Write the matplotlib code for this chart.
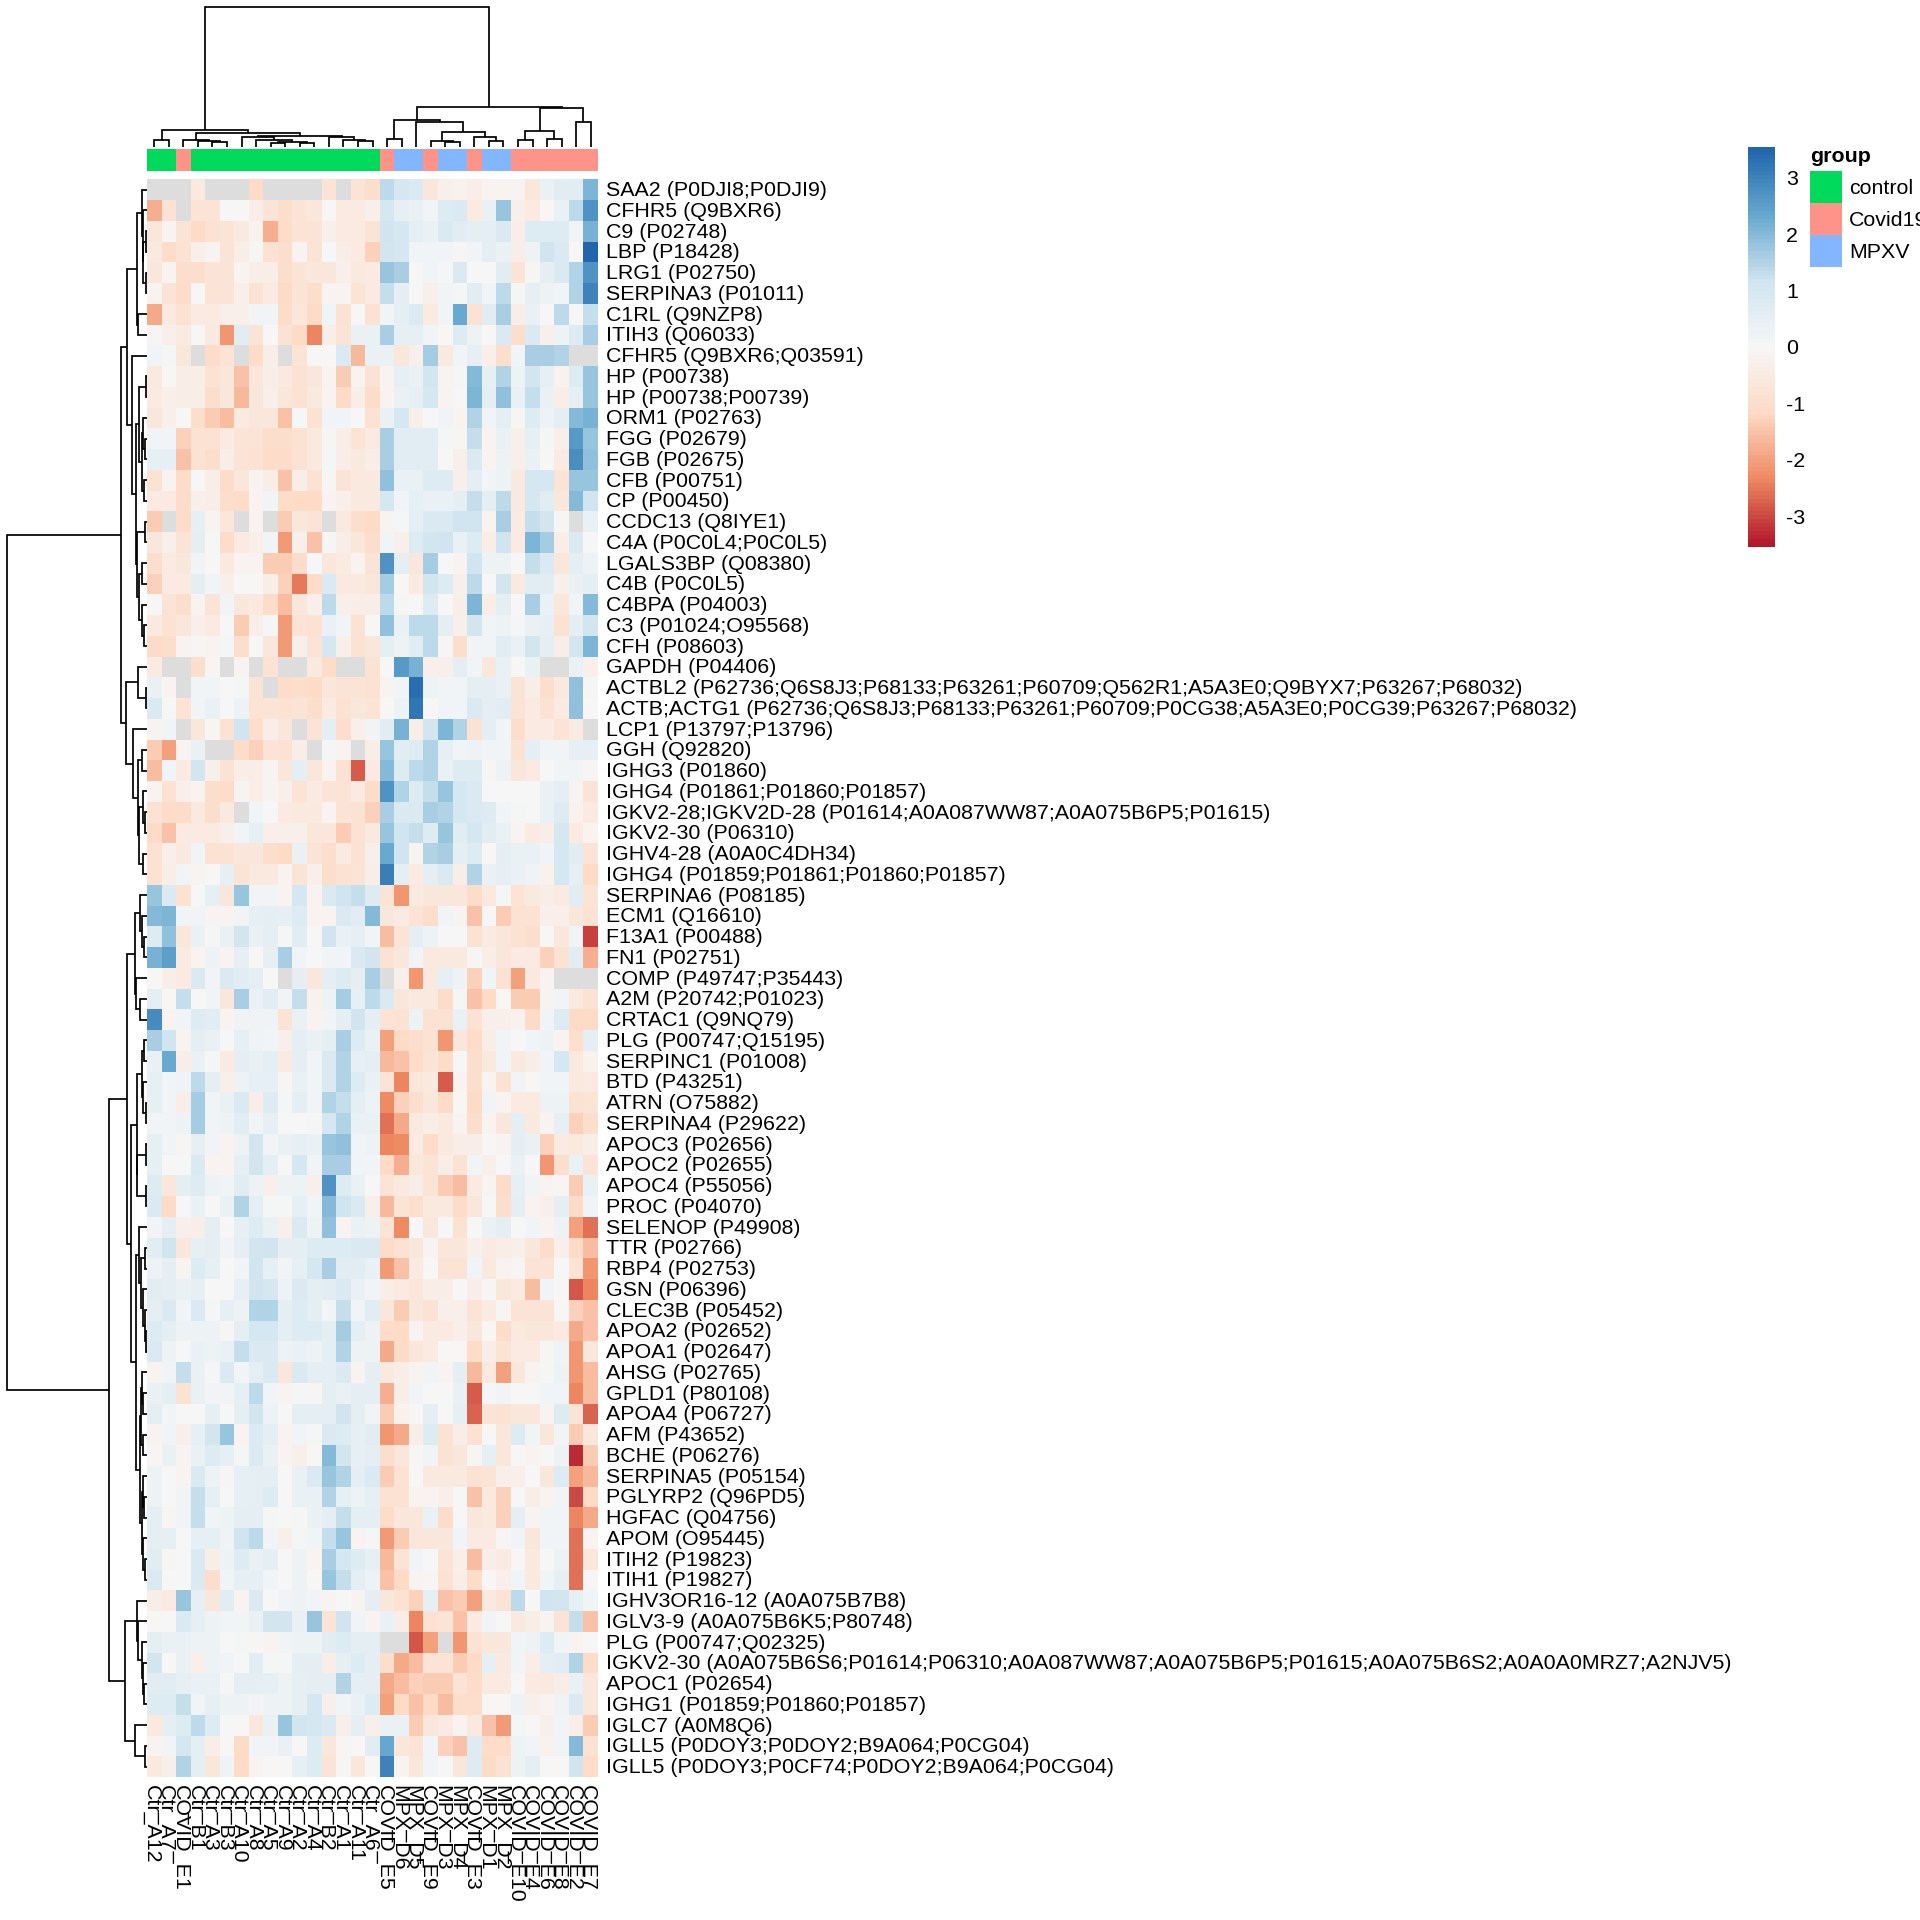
import numpy as np
import matplotlib
matplotlib.use("Agg")
import matplotlib.pyplot as plt
from matplotlib.colors import LinearSegmentedColormap, ListedColormap, BoundaryNorm

plt.rcParams['font.family'] = ['Liberation Sans', 'DejaVu Sans']
N = float('nan')

row_labels = [
"SAA2 (P0DJI8;P0DJI9)","CFHR5 (Q9BXR6)","C9 (P02748)","LBP (P18428)","LRG1 (P02750)","SERPINA3 (P01011)",
"C1RL (Q9NZP8)","ITIH3 (Q06033)","CFHR5 (Q9BXR6;Q03591)","HP (P00738)","HP (P00738;P00739)","ORM1 (P02763)",
"FGG (P02679)","FGB (P02675)","CFB (P00751)","CP (P00450)","CCDC13 (Q8IYE1)","C4A (P0C0L4;P0C0L5)",
"LGALS3BP (Q08380)","C4B (P0C0L5)","C4BPA (P04003)","C3 (P01024;O95568)","CFH (P08603)","GAPDH (P04406)",
"ACTBL2 (P62736;Q6S8J3;P68133;P63261;P60709;Q562R1;A5A3E0;Q9BYX7;P63267;P68032)",
"ACTB;ACTG1 (P62736;Q6S8J3;P68133;P63261;P60709;P0CG38;A5A3E0;P0CG39;P63267;P68032)",
"LCP1 (P13797;P13796)","GGH (Q92820)","IGHG3 (P01860)","IGHG4 (P01861;P01860;P01857)",
"IGKV2-28;IGKV2D-28 (P01614;A0A087WW87;A0A075B6P5;P01615)","IGKV2-30 (P06310)","IGHV4-28 (A0A0C4DH34)",
"IGHG4 (P01859;P01861;P01860;P01857)","SERPINA6 (P08185)","ECM1 (Q16610)","F13A1 (P00488)","FN1 (P02751)",
"COMP (P49747;P35443)","A2M (P20742;P01023)","CRTAC1 (Q9NQ79)","PLG (P00747;Q15195)","SERPINC1 (P01008)",
"BTD (P43251)","ATRN (O75882)","SERPINA4 (P29622)","APOC3 (P02656)","APOC2 (P02655)","APOC4 (P55056)",
"PROC (P04070)","SELENOP (P49908)","TTR (P02766)","RBP4 (P02753)","GSN (P06396)","CLEC3B (P05452)",
"APOA2 (P02652)","APOA1 (P02647)","AHSG (P02765)","GPLD1 (P80108)","APOA4 (P06727)","AFM (P43652)",
"BCHE (P06276)","SERPINA5 (P05154)","PGLYRP2 (Q96PD5)","HGFAC (Q04756)","APOM (O95445)","ITIH2 (P19823)",
"ITIH1 (P19827)","IGHV3OR16-12 (A0A075B7B8)","IGLV3-9 (A0A075B6K5;P80748)","PLG (P00747;Q02325)",
"IGKV2-30 (A0A075B6S6;P01614;P06310;A0A087WW87;A0A075B6P5;P01615;A0A075B6S2;A0A0A0MRZ7;A2NJV5)",
"APOC1 (P02654)","IGHG1 (P01859;P01860;P01857)","IGLC7 (A0M8Q6)","IGLL5 (P0DOY3;P0DOY2;B9A064;P0CG04)",
"IGLL5 (P0DOY3;P0CF74;P0DOY2;B9A064;P0CG04)"]

col_labels = ["Ctr_A12","Ctr_A7","COVID_E1","Ctr_B1","Ctr_A3","Ctr_B3","Ctr_A10","Ctr_A8","Ctr_A5","Ctr_A9",
"Ctr_A2","Ctr_A4","Ctr_B2","Ctr_A1","Ctr_A11","Ctr_A6","COVID_E5","MPX_D6","MPX_D5","COVID_E9","MPX_D3",
"MPX_D4","COVID_E3","MPX_D1","MPX_D2","COVID_E10","COVID_E4","COVID_E6","COVID_E8","COVID_E2","COVID_E7"]

col_groups = ["control","control","Covid19"]+["control"]*13+["Covid19","MPXV","MPXV","Covid19","MPXV","MPXV",
"Covid19","MPXV","MPXV"]+["Covid19"]*6
group_names = ["control","Covid19","MPXV"]
group_colors = {"control":"#00DA5C","Covid19":"#FF9289","MPXV":"#82B7FF"}
scale_ticks = [3,2,1,0,-1,-2,-3]

z_scores = [
[N,N,N,-.6,N,N,N,-1.1,N,N,N,N,-.8,N,-.8,-1,1.4,1,.9,-.7,-.3,-.25,-.4,-.2,-.15,-.15,-.7,.4,.7,.7,2.1],
[-1.8,-.9,N,-.8,-.8,.05,-.05,-.4,-.8,-1,-.8,-.7,.05,-.5,-.5,-.3,1,.5,.4,.2,.8,.9,-.5,.4,1.8,-.3,-.5,-.05,.4,1.4,2.7],
[-.7,-.2,-.8,-1.2,-.9,-.8,-.6,-.25,-1.8,-1.1,-.8,-.8,-.3,-.5,-.5,-.8,1.2,1,.6,.4,.9,.7,.6,.6,.9,-.4,.8,.8,.8,.2,2.2],
[-.6,-1.1,-.9,-.3,-.2,-.8,-.4,-.1,-.9,-1,-.2,-.8,0,-.4,-.5,-1.3,1.1,1,.2,.2,.2,-.1,.2,.6,.4,-.4,.3,1.2,.9,.05,3.5],
[-.7,-.2,-1,-1,-.8,-.8,-.15,-.4,-.4,-1,-.8,-.7,-.7,-.3,-.6,-.5,1.8,1.6,.05,.2,.1,.9,.05,.05,.7,-.8,-.1,.6,.9,1.5,2.7],
[-.2,-.8,-1.1,.05,-.8,-.8,-.3,-.9,-.5,-1.2,-.8,-1,-.2,-.2,-.8,-.5,1.3,.6,.05,-.3,.2,.1,.7,.15,1.4,.1,.5,.35,.15,1.5,3],
[-1.9,-.5,-.9,-.5,-.5,-.3,-.3,.2,.2,-1.1,-.7,-1.2,.2,-.9,.05,-.9,.2,.6,.9,-.5,.2,2.3,-.9,.7,1.6,-.4,.4,0,1.4,-.1,1.3],
[-.1,-.3,-.5,0,-.6,-2.2,.7,-.8,-.05,-.9,-1.2,-2.4,-.4,-.8,.4,.4,1.6,.5,.6,.2,-.05,.8,.3,.05,.9,-1,.9,-.3,.3,.8,1.6],
[.2,.1,-.7,N,-1.1,-.8,N,-1.1,-.4,N,-.8,0,-.05,.9,-1.7,.4,.4,-.7,-.3,1.7,-.6,.2,.5,-.3,-1,.15,1.6,1.6,1.5,N,N],
[-.6,-.05,-.4,-.4,-.9,-.7,-1.5,-.7,-.4,-.6,-.9,-.7,-.2,-1.4,-.2,-.9,-.2,.5,.4,1.1,-.2,.1,2,.5,1.5,.3,1.1,.5,-.25,.8,1.8],
[-.5,-.3,-.4,-.4,-1,-.7,-1.7,-.7,-.3,-.7,-.9,-.6,-.2,-1.2,-.4,-1.1,-.2,.4,.5,1,-.2,.05,2.1,.6,1.9,.4,1.3,.4,-.4,.5,1.8],
[-.7,-.3,-.05,-1,-1.4,-1.6,-.5,-.7,-.7,-1.5,.05,-.9,.15,.15,.05,-.9,.4,1,-.3,0,.2,-.2,1.5,.2,.6,-.1,.8,.3,.6,2,2.2],
[.2,.2,-1.3,-.9,-.9,-.5,-.8,-.8,-1,-1,-.9,-.6,-.1,-.4,-.8,-.5,1.6,.7,.7,.7,.1,-.1,1.3,-.2,.4,-.3,.5,.1,-.3,2.6,1.8],
[.5,.5,-1.5,-.9,-1,-.4,-.8,-.9,-1.1,-1.1,-.9,-.6,.1,-.4,-.6,-.4,1.6,.7,.7,.7,-.05,-.3,.9,-.2,.3,-.3,.4,-.05,-.5,2.8,1.9],
[-.9,-.2,-1.1,0,-.4,-1.1,-.7,-.2,-.4,-1.5,-.4,-.9,-.1,-.8,-.6,-.6,1.9,.4,.4,.8,.8,-.3,.6,.2,.3,-.6,1,1,-.8,1.8,1.8],
[-.5,-.5,-1.1,-.3,-.4,-1,-1.1,-.2,.2,-1.1,-1.2,-1.2,-.2,-.3,-.6,-.6,1,.2,.5,.4,.4,.6,1.3,.6,1.4,-.6,1,.7,-.7,2,1.2],
[-1.4,N,-1.1,.5,-.2,-.7,N,-.2,N,-1.4,-.7,-.8,N,-.6,-1,-1.2,-.2,.1,.6,.9,.9,1.2,1.2,-.2,1.6,-.5,1.3,1.1,-.1,N,.4],
[-.7,-.3,-.8,.6,.05,-1.1,-.5,-.3,.2,-2.1,-.3,-1.5,-.1,-.4,-.7,-1,.15,-.3,.8,1.1,1.2,.4,.8,-.4,1.2,-.5,2.1,1.7,-.4,.9,.05],
[-1,-.5,-.7,.15,.05,-.6,-.2,-.2,-1.4,-1.4,-1.1,.05,-.7,-.5,-.2,-.8,2.7,.6,-.7,1.7,.05,-.2,1.2,.3,.3,.05,1.3,.9,-.7,.6,.3],
[-1.3,-.5,-.5,.6,.15,-.3,-.05,-.05,-.4,-1.3,-2.5,-1.1,.9,-.6,-.6,-.7,1.7,-.05,-.5,1.1,.8,-.3,1.4,-.05,1.1,-.6,.7,.7,-.3,.4,.6],
[-.05,-.8,-1,-.15,-.8,.2,-.7,-.6,-1.1,-1.6,-.7,-.3,1.4,-.3,-.4,-.4,1.4,.1,-.05,.8,0,-.4,2.1,-.4,.6,.05,1.6,.4,-.7,.2,2],
[-.6,-.9,-.7,-.3,-.5,.05,-1.4,-.4,.1,-2.1,-.8,-.9,.4,.2,-.9,-.05,1.9,.4,1.4,1.4,.6,-.3,1.1,.2,.3,.1,.4,.5,-.9,.6,1.1],
[-1.2,-1,-.2,-.1,-.15,.1,-1,.05,-.7,-2.1,-.3,-.8,1,-.3,-.9,-.7,.6,.3,.7,1.4,-.1,-1,.2,.2,.7,.4,1.1,.6,-.4,1.1,2.1],
[-.5,N,N,-1,-.1,N,-.2,N,-.9,N,N,-.6,-1.1,N,N,-.9,0,2.6,2.2,-.3,-.3,.6,.2,-.7,.4,-.05,.4,N,N,.4,-.3],
[.4,-.2,N,.2,.2,0,.1,-.8,N,-1.1,-1,-1.2,-.7,-.8,-.8,-.9,-.2,.2,3.4,.3,.2,.2,.6,.6,.4,-.8,-.4,-1,-.6,1.9,.1],
[.9,-.05,-.8,.2,.4,.05,.35,-.8,-.8,-.9,-.8,-1,-.5,-.9,-.7,-.8,-.05,.3,3.2,.05,.15,.15,.9,.6,.7,-.8,-.5,-.9,-.5,1.9,.05],
[-.15,.15,N,-.7,-.1,-.9,1.2,-1,-.4,-.7,N,-.8,.6,-1,-.3,.2,.7,2.2,-.4,1.1,2.1,1.5,-.9,.6,.15,-1,-.5,-.5,-.8,-.5,N],
[-1.4,-2,-.2,.4,N,N,-1.1,-1.3,-.8,-.9,-.4,N,.1,-.2,N,-.4,1.8,.7,.8,1.5,.5,.2,.3,.2,.2,-.9,.6,.2,.2,.5,.5],
[-1.6,.2,-.5,1.1,-.3,-.9,-.4,-.4,-.2,-.7,.6,-.7,-.2,-.9,-2.8,-.5,2,.8,1.4,1.5,.4,.8,.8,-.1,.3,-.7,-.5,0,.2,.2,-.1],
[-.2,-.9,-.3,-.2,-1,-1.1,-.15,-.4,-.2,-.3,-.8,-.5,-.8,-.8,-.5,-1.1,2.7,1.5,.8,1.3,1.8,1,.9,.05,.05,.05,.05,.4,.6,-.2,-.8],
[-.9,-1.1,-1.1,-.6,-1,-.6,N,.2,.05,-.5,-.6,-.6,-.2,-.8,-.9,-1.3,1.6,.9,.9,1.6,1.5,1,.9,.8,.2,.1,.05,.4,.8,-.25,-.5],
[-1.2,-1.5,-.5,-.5,-.5,-.3,.2,.5,-.3,-.3,-.3,-.7,-.7,-1.4,-.9,-.6,1.8,1.2,1.3,.8,1.8,.7,1,.7,.4,-.2,-.5,-.4,1,-.5,-.2],
[-.9,-.3,-.6,.2,-.9,-.9,-.7,-.7,-1,-1.2,.4,-.8,-1,-.5,-.9,-.3,2.3,1.2,-.2,1.5,1.6,.6,.8,-.05,.6,.4,.4,.2,1,.7,-.8],
[-.9,-.4,.2,-.2,-.05,.5,-.8,-.6,-.6,-.2,-.8,-.3,-1,-.9,-.8,-.4,3.1,.6,-.5,.6,.9,-.4,1.5,.4,.5,.4,.25,-.25,1,.5,-1.2],
[1.8,.9,-.9,.05,.5,-.7,1.8,.15,.2,-.2,1,-.15,.9,1.2,1.3,.8,-.8,-2.2,-.6,-.7,-.7,-.7,-1.1,-.6,.1,-.8,-.6,-.4,-.5,.7,-.8],
[2,2.1,.2,.15,-.2,-.2,.2,.5,.6,.5,.8,-.2,-.2,.9,.7,2,-.7,-.5,-.8,-1,.15,-.2,-1.5,-.05,-1.4,-.9,-.9,-.35,-.3,-.7,-.9],
[.8,1.9,-.7,.4,.1,.4,1.1,.4,.6,.1,.7,-.05,1.2,.4,.5,.2,-1.6,-.8,.6,.3,.05,.05,-.9,-.5,-.7,-.9,-1,.05,-.7,.2,-3.1],
[2.2,2.5,-.5,-.2,.3,-.2,.5,-.05,.5,1.6,.2,.05,.15,.15,.9,1.1,-.9,-.7,.15,-.6,-.6,-.6,-.1,-.4,-.7,-.5,-.5,-1.3,-.9,.7,-1.8],
[-.05,-.4,-.5,.9,.2,.9,.7,.6,.05,N,.6,-.7,.6,.8,.6,1.6,N,-.3,-2.2,-.6,.5,.3,-1.3,.2,-.9,-2,-.6,-.2,N,N,N],
[.6,-.05,1.3,.05,.2,-.7,1.6,.4,.7,.15,1.3,-.25,.3,1.7,.5,1.4,.9,-.7,-.6,-.6,-1.1,.1,-1.5,-1.2,-.05,-1.4,-1.4,-.2,.2,-.6,-.9],
[2.9,-.2,.15,.8,.7,-.2,.25,.25,.25,-.8,.4,-.2,.2,.6,1.2,.6,-.8,-.9,.3,-.9,-.9,.4,-.9,-.3,-.3,-.25,-1.2,.2,.8,-1.2,-1.2],
[1.6,1.2,-.2,.6,.4,.05,.5,.25,.15,-.3,.6,.4,.6,1.6,.8,.4,-2,-1.2,-1,-.9,-2.2,-.7,-1.1,-.4,.15,.05,.2,.3,-.2,-1,.6],
[.4,2.3,-.4,.4,.1,-.5,.6,.4,.6,-.5,.6,.2,.9,1.5,.5,.6,-1.7,-1.5,-1.1,-.8,-1.1,0,-1,-.6,.15,-.6,-.4,.2,1,-.6,-.25],
[.5,.15,.25,1.4,.6,-.3,.35,.5,.5,-.1,.4,.2,.9,1.5,.8,.4,-.8,-2.4,-.7,-.6,-2.8,-.2,-1,-.15,-.9,.15,-.05,.2,.2,-.6,-.5],
[.5,.15,-.4,1.7,.15,.4,.9,-.4,.8,.1,.6,.15,1.5,1.3,.6,.3,-2.3,-1.3,-1,-.7,-1.2,-.05,-1.2,.15,-.2,-.5,-.5,.3,.3,-.9,-.8],
[.2,.2,.35,1.7,.2,.3,.7,.15,.5,.05,0,.1,1,1.5,.4,.4,-2.6,-1.9,-.6,-.4,-.6,-.2,-1,-.15,-.7,.6,-.6,-.2,.5,-1.3,-1],
[.5,.2,-.1,.5,.15,-.15,.3,1.1,.15,.4,.5,.4,1.8,1.9,.2,.3,-2.4,-2.3,-.5,-1.1,-.6,-.4,-.4,-.05,-.2,.6,.4,-1.3,-.5,-.6,-.4],
[.5,.05,.05,.9,-.15,-.2,.5,1.1,.6,0,1,.15,1.6,1.6,.2,.2,-1.2,-1.8,-.7,-.8,-.4,-.9,.2,-.3,.05,.4,.05,-2.2,-1,.4,-.8],
[.8,-.7,.6,.8,.3,.2,.7,.3,-.3,.3,.3,-.3,2.7,.8,.4,0,-.8,-.6,-.4,-.8,-1.4,-1.6,-.5,-.15,-1.1,.5,.15,-.2,-.1,-1.4,.4],
[.9,-1.2,.05,.4,.05,.4,1.5,.6,.1,.1,.5,.15,2,1.2,.9,-.3,-1.7,-.8,-1,-.6,-.6,-1.1,-.7,0,-1,.6,-.2,-.3,.6,-1.2,.15],
[.2,.6,-.3,-.4,.6,.05,.5,.8,.4,-.3,.9,.35,1.9,-.2,.4,.3,-.8,-2.3,0,-.7,0,-.9,.05,.4,.6,.05,.2,-.2,.3,-2,-2.6],
[.7,1.2,-.7,.5,.6,.15,.6,1.1,1.2,.6,.6,.8,.8,.8,.9,.9,-1.1,-.9,-.7,-.2,-.7,-.7,-.3,-.5,-.4,-.35,-.7,-1.1,-.3,-1.2,-1.6],
[.35,.6,-.2,.8,.5,.05,.15,1.2,.5,.15,.5,1,1.6,.7,.7,.4,-2.1,-1.5,-.5,-.05,-.8,-.8,.15,-.6,-.15,-.1,-.8,-.8,0,-.8,-2.2],
[.7,.6,.4,.5,0,0,.5,1.2,1,.3,.9,.6,.7,.9,.4,.2,-.4,-.5,-.7,-.4,-.4,.05,-.4,-.1,-.7,-.5,-1.6,.2,0,-2.9,-2.4],
[.6,.9,.2,.9,.1,.5,.35,1.5,1.5,.6,.8,.6,.2,1.3,.2,.7,-.7,-1.4,-.7,-.9,-.3,-.3,-.8,-.5,-.1,-.8,-.8,-.8,-.05,-1.3,-1.5],
[.8,.6,.35,.3,.35,-.1,.6,1,1,.6,.8,.8,.6,1.7,.6,.3,-1.1,-1.2,-.2,-.5,-.5,-.3,-.7,-.05,-1.1,-.6,-.7,-.7,-.5,-1.9,-1.5],
[.9,.35,.05,.4,.35,.4,1.3,.9,.9,.3,.4,.35,.6,1.5,.35,.3,-1.9,-1.2,-.7,-.5,-.05,-.05,-1.1,-.4,-.8,-.5,-.5,-.1,.25,-2.2,-.7],
[-.2,.15,1.3,.4,.1,.9,.15,.6,.9,-.7,.9,.6,.6,.9,-.15,.6,-.6,-.4,-.2,.15,-.2,.6,-1.7,-.6,-2,-.7,-.2,.1,.3,-2.2,-1.6],
[.4,.6,-.9,.4,.15,.15,.5,1.4,.2,-.2,.1,-.1,.6,.4,.6,.6,-1.8,-.4,.15,.05,.05,.4,-2.8,.1,.15,.05,.05,.2,.2,-2.4,-1.6],
[.6,.2,.05,.05,.5,.05,.6,1.1,.35,0,.6,.6,.6,1.2,.6,.15,-1.4,-.25,-.05,.6,-.05,.5,-2.7,-.8,-.9,-.7,-.7,-.2,.8,-.8,-2.7],
[-.2,.2,-.3,.5,1.1,1.8,-.2,.9,.6,-.2,.2,.1,.9,.8,.5,.7,-2.2,-1.9,-.4,.8,-.9,-.4,-.9,.05,-.7,.8,.2,-.7,.2,-1.4,-.7],
[-.1,.4,-.2,.4,.8,.5,.1,.9,.4,-.2,-.3,-.05,2,1.1,.5,.6,-1,-.7,-.05,.2,-.9,-.7,-.1,.5,-.7,-.05,-.15,0,.3,-3.3,-1.4],
[.35,.05,-.2,.9,.35,-.1,.5,.6,.6,0,.4,.9,1.8,1.5,.6,.9,-1.4,-.9,-.05,-.6,-.6,-.6,-.9,-.8,-.3,-.3,.05,-.7,.8,-2,-1.7],
[.35,.05,.15,1.3,.5,0,.5,.6,.8,-.05,.4,.4,1.5,.5,.35,.5,-.9,-.9,-.2,-.2,-.3,.05,-1.5,-.6,-1.3,.05,-.4,-.2,.15,-3,-1.2],
[.6,-.1,.2,1.3,.15,.3,.6,.6,.1,0,.1,.4,.6,1.3,.6,.6,-1.1,-.7,-.7,.4,-1.1,.05,-.7,-.6,-1.3,.6,-.2,.2,.15,-2.4,-1.9],
[.6,.5,.05,.5,.5,.25,1.2,1.4,.15,-.3,.1,.2,1.3,1.8,-.2,.1,-2.1,-1.4,-.7,-.7,-.7,.15,-.5,-.5,-.1,.15,-.7,.15,.15,-2.6,-.2],
[.7,-.1,.05,.9,-.4,.3,.8,.4,.6,.05,.3,-.2,1.6,1,.8,.5,-1.7,-.8,.15,.05,-.8,-.3,-1.6,-.4,-.5,-.05,-.6,.05,.35,-2.6,-.7],
[.9,.05,.05,.9,-1,.2,.5,.5,.2,.05,.3,-.05,1.8,1.3,.6,.3,-1.5,-1.2,-.2,-.1,-.9,-.4,-1.1,-.05,-.3,.15,-.6,.2,.5,-2.6,-.1],
[-.4,-.5,1.8,.5,-.7,.7,-.2,.9,.05,.2,.3,.15,-.2,.05,-.2,.6,-.7,-.9,-1.3,.5,-1.5,-1.4,-2,-.6,-.8,1.4,.05,1.2,1.1,.5,.15],
[-.05,.05,.9,.5,.3,.2,.15,.4,1.1,1.1,.4,1.8,-.8,1.2,.2,-.2,.4,-.4,-2.4,-.9,-.8,-1.5,-.5,.15,0,-.6,-.4,-.2,-.8,1.3,-1.5],
[.6,.4,.4,.35,.35,.05,.1,-.1,-.2,.2,.35,.35,.7,.8,.6,.6,N,N,-2.9,-2,N,-2.2,-.9,-.7,-.7,.2,.3,.8,.15,-.15,0],
[1.1,-.05,.4,-.3,.35,.15,.05,.7,.1,.1,.6,.6,-.4,.5,.8,.6,-1,-1.9,-1.6,-.8,-.8,-1.4,-1.2,.5,-.6,.2,-.4,.6,.7,1.5,-1.1],
[.7,.7,.5,.4,.4,.1,.6,.6,.5,.35,.5,.6,.6,1.5,.6,.6,-1.9,-1.6,-1.3,-1.4,-1.4,-.8,-1.1,-.5,-.5,0,-.5,-.6,-.4,.4,-.7],
[.8,.8,1.3,.2,.5,.3,.3,.2,.3,.3,.5,1,-.3,.2,.4,.8,-2,-1.2,-1.5,-1.2,-1.6,-1,-1,-.05,-.05,.35,-.3,-.2,.25,.9,-.7],
[-.6,.6,.8,1.4,.8,.05,-.05,-.7,.4,1.8,1.1,1,.9,-.3,.6,-.3,.4,.4,-1.4,-.7,-.5,-.2,-.6,-1.5,-2.1,.1,-.05,-.3,.2,-.4,-1.4],
[-.2,.2,1,.6,-.4,-.05,-1.2,.15,.15,.4,.05,.8,-.7,-.1,-.05,.7,2.4,-.7,-.8,.2,-1.3,-1.5,.8,-1.1,-1.1,.3,.15,-.25,.15,2,-.9],
[-.6,-.3,1.5,.6,-.7,.25,-1.2,-.15,-.05,.05,.5,.8,-.8,-.1,-.7,.05,3,-.2,-.7,.2,.05,-.7,.8,-1.2,-.9,.35,.6,.05,-.05,1.2,-1.1],
]

# dendrogram merges: (left, right, height); leaves are row / column indices
col_tree = (
 ((0,1,6.7),((2,(3,(4,5,4.3),6),7),((6,(7,((8,9,3.3),(10,11,3.7),5),6.7),9.3),(12,(13,(14,15,5.3),7),10),11),13.3),17),
 (((16,17,7.7),(18,((19,(20,21,4.3),6),(22,(23,24,5.3),9.3),14.7),24.3),27),
  (((25,26,7),(27,28,7.7),16),(29,30,24.3),38.7),40),
 139.3)

tree_A = ((0,(1,((2,3,1.3),(4,5,1.3),3.7),4.3),5.3),(6,7,8.7),9.7)
tree_B = (8,(((9,10,1),((11,(12,13,1.7),4.3),(14,15,2.7),5.3),8.3),
             ((16,17,2),((18,19,5),(20,(21,22,3.3),5.3),7.7),10),11.3),15)
tree_C = ((23,(24,25,1),9),(26,((27,28,5.3),((29,(30,31,2),3.7),(32,33,4.3),8),9),13.7),21)
tree_D = ((34,(35,(36,37,3.5),5.3),7),(38,(39,40,7),11),12)
tree_E1 = (((41,42,2.7),(43,(44,45,1.3),3.7),5.3),((46,47,1),(48,49,1),9.7),10.3)
tree_U = (50,((51,52,2),(53,(54,(55,56,1),2),3.7),6),7.7)
tree_M = (((57,(58,59,3.7),5.3),(60,61,3.7),6.5),
          ((62,(63,64,3),4.3),(65,(66,67,2),3.7),5.5),7)
tree_E = (tree_E1,(tree_U,tree_M,10.7),16)
tree_F = ((68,(69,(70,(71,(72,73,2.7),4.3),5.3),9.3),10.3),(74,(75,76,2),12),22)
row_tree = (((tree_A,tree_B,20.3),tree_C,26.3),((tree_D,tree_E,19.7),tree_F,38),140.3)

W = 1920.0
HM_L, HM_R, HM_T, HM_B = 147.0, 598.0, 179.3, 1777.0
FS = 15.36
TC = '#000000'

fig = plt.figure(figsize=(19.2, 19.2), dpi=100, facecolor='white')

def px_axes(l, t, r, b):
    ax = fig.add_axes([l/W, 1-b/W, (r-l)/W, (b-t)/W])
    ax.set_axis_off()
    return ax

stops = ["#B2182B","#EF8A62","#FDDBC7","#F7F7F7","#D1E5F0","#67A9CF","#2166AC"]
base = LinearSegmentedColormap.from_list("rdbu7", stops, N=256)
cmap = ListedColormap([base(i/99) for i in range(100)])
vlim = 3.55
norm = BoundaryNorm(np.linspace(-vlim, vlim, 101), 100)
cmap.set_bad("#DDDDDD")

# heat map
mat = np.array(z_scores, dtype=float)
nr, nc = mat.shape
ax = px_axes(HM_L, HM_T, HM_R, HM_B)
ax.pcolormesh(np.arange(nc+1), np.arange(nr+1), np.ma.masked_invalid(mat), cmap=cmap, norm=norm, linewidth=0, antialiased=False)
ax.set_xlim(0, nc); ax.set_ylim(nr, 0)

cw = (HM_R-HM_L)/nc
rh = (HM_B-HM_T)/nr
for i, s in enumerate(row_labels):
    fig.text(606/W, 1-(HM_T+rh*(i+.5)-1)/W, s, fontsize=FS, color=TC, ha='left', va='center_baseline')
for j, s in enumerate(col_labels):
    fig.text((HM_L+cw*(j+.5)-3)/W, 1-1785/W, s, fontsize=FS, color=TC, rotation=270, ha='center', va='top')

# annotation strip
ax = px_axes(HM_L, 149, HM_R, 170.7)
for j, g in enumerate(col_groups):
    ax.bar(j+.5, 1, width=1, color=group_colors[g], linewidth=0)
ax.set_xlim(0, nc); ax.set_ylim(0, 1)

# dendrograms
def walk(node, segs):
    if not isinstance(node, tuple):
        return node+.5, 0.0
    pa, ha_ = walk(node[0], segs)
    pb, hb_ = walk(node[1], segs)
    h = node[2]
    segs.append(([pa, pa, pb, pb], [ha_, h, h, hb_]))
    return (pa+pb)/2, h

LW = 1.25
segs = []; walk(col_tree, segs)
ax = px_axes(HM_L, 0, HM_R, 146.5)
for p, h in segs:
    ax.plot(p, h, color='black', lw=LW, solid_joinstyle='miter', solid_capstyle='butt')
ax.set_xlim(0, nc); ax.set_ylim(0, 146.5)

segs = []; walk(row_tree, segs)
ax = px_axes(0, HM_T, HM_L, HM_B)
for p, h in segs:
    ax.plot(h, p, color='black', lw=LW, solid_joinstyle='miter', solid_capstyle='butt')
ax.set_xlim(HM_L, 0); ax.set_ylim(nr, 0)

# colour bar
ax = px_axes(1748, 147, 1775, 547)
grad = np.linspace(vlim, -vlim, 100)[:, None]
ax.imshow(grad, cmap=cmap, norm=norm, aspect='auto', extent=[0, 1, -vlim, vlim], interpolation='nearest')
ax.set_xlim(0, 1); ax.set_ylim(-vlim, vlim)
for v in scale_ticks:
    ax.text(1.0+11/27, v, str(v), fontsize=FS, color=TC, ha='left', va='center_baseline', clip_on=False)

# group legend
fig.text(1810/W, 1-155/W, "group", fontsize=FS, fontweight='bold', color=TC, ha='left', va='center_baseline')
ax = px_axes(1810, 171, 1842, 267)
for k, g in enumerate(group_names):
    ax.bar(.5, 1, width=1, bottom=k, color=group_colors[g], linewidth=0)
    ax.text(1+7/32, k+.5, g, fontsize=FS, color=TC, ha='left', va='center_baseline', clip_on=False)
ax.set_xlim(0, 1); ax.set_ylim(3, 0)

fig.savefig("out.png", dpi=100, facecolor='white')
